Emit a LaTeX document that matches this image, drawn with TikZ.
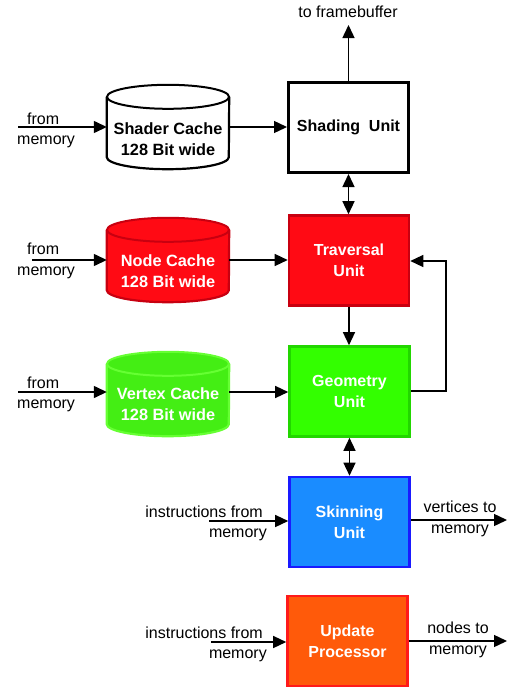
\documentclass[tikz,border=0pt]{standalone}
\usepackage{fontspec}
\setmainfont{Liberation Sans}
\usetikzlibrary{arrows.meta}

\definecolor{travfill}{HTML}{FF0A14}
\definecolor{travline}{HTML}{C80010}
\definecolor{geofill}{HTML}{33FF00}
\definecolor{geoline}{HTML}{22D600}
\definecolor{vcfill}{HTML}{44EE14}
\definecolor{vcline}{HTML}{66FF33}
\definecolor{skinfill}{HTML}{1A8CFF}
\definecolor{skinline}{HTML}{1A1AFF}
\definecolor{updfill}{HTML}{FF5A0A}
\definecolor{updline}{HTML}{FF1A1A}

\tikzset{
  unit/.style={minimum width=120pt, minimum height=90pt, line width=2.6pt,
    font=\fontsize{16}{21}\selectfont\bfseries, align=center, inner sep=0pt},
  cachebox/.style={minimum width=122pt, minimum height=84pt, inner sep=0pt,
    font=\fontsize{16.3}{21}\selectfont\bfseries, align=center},
  lbl/.style={font=\fontsize{16}{20}\selectfont, inner sep=0pt},
  tip/.style={Triangle[length=13pt,width=12pt]},
  conn/.style={line width=1.4pt, -{Triangle[length=13pt,width=12pt]}},
  biconn/.style={line width=1.4pt, {Triangle[length=13pt,width=12pt]}-{Triangle[length=13pt,width=12pt]}},
}

% cylinder drawn round a named rectangle node: #1 node, #2 fill, #3 line
\newcommand{\cachedrum}[3]{%
  \fill[#2] ([yshift=-12pt]#1.north west) -- ([yshift=12pt]#1.south west)
     arc (180:360:61pt and 12pt) -- ([yshift=-12pt]#1.north east)
     arc (0:180:61pt and 12pt) -- cycle;
  \draw[#3, line width=2.2pt] ([yshift=-12pt]#1.north west) -- ([yshift=12pt]#1.south west)
     arc (180:360:61pt and 12pt) -- ([yshift=-12pt]#1.north east);
  \draw[#3, line width=2pt] ([yshift=-12pt]#1.north) ellipse (61pt and 12pt);
}

\begin{document}
\begin{tikzpicture}[x=1pt, y=-1pt]
\useasboundingbox (0,0) rectangle (507,688);

% processing units
\node[unit, draw=black, fill=white, line width=3pt] (shade) at (348.5,127.5) {Shading\ \ Unit};
\node[unit, draw=travline, fill=travfill, text=white] (trav) at (349,260.5) {Traversal\\Unit};
\node[unit, draw=geoline, fill=geofill, text=white] (geo) at (349.5,391.5) {Geometry\\Unit};
\node[unit, draw=skinline, fill=skinfill, text=white] (skin) at (349.5,522) {Skinning\\Unit};
\node[unit, draw=updline, fill=updfill, text=white] (upd) at (347.5,641) {Update\\Processor};

% caches
\node[cachebox] (sc) at (168,127) {};
\cachedrum{sc}{white}{black}
\node[cachebox, text=black] at (168,139) {Shader Cache\\128 Bit wide};

\node[cachebox] (nc) at (168,260) {};
\cachedrum{nc}{travfill}{travline}
\node[cachebox, text=white] at (168,271) {Node Cache\\128 Bit wide};

\node[cachebox] (vc) at (168,394) {};
\cachedrum{vc}{vcfill}{vcline}
\node[cachebox, text=white] at (168,404) {Vertex Cache\\128 Bit wide};

% free ends
\coordinate (fb) at (348.5,25);
\coordinate (scin) at (18,127);
\coordinate (ncin) at (32,260);
\coordinate (vcin) at (18,392);
\coordinate (skin-in) at (209,521);
\coordinate (skin-out) at (507,520);
\coordinate (upd-in) at (211,642);
\coordinate (upd-out) at (507,641);
\coordinate (loopA) at (446,391);
\coordinate (loopB) at (446,261);

% connectors
\draw[conn] (shade.north) -- (fb);
\draw[conn] (scin) -- (sc.west);
\draw[conn] (sc.east) -- (shade.west |- sc.east);
\draw[conn] (ncin) -- (nc.west);
\draw[conn] (nc.east) -- (trav.west |- nc.east);
\draw[conn] (vcin) -- (vc.west |- vcin);
\draw[conn] (vc.east |- vcin) -- (geo.west |- vcin);
\draw[biconn] (shade.south) -- (trav.north -| shade.south);
\draw[conn] (trav.south) -- (geo.north -| trav.south);
\draw[biconn] (geo.south) -- (skin.north -| geo.south);
\draw[conn] (geo.east |- loopA) -- (loopA) -- (loopB) -- (trav.east |- loopB);
\draw[conn] (skin-in) -- (skin.west |- skin-in);
\draw[conn] (skin.east |- skin-out) -- (skin-out);
\draw[conn] (upd-in) -- (upd.west |- upd-in);
\draw[conn] (upd.east |- upd-out) -- (upd-out);

% labels
\node[lbl] (t-fb) at (348,12) {to framebuffer};
\node[lbl, anchor=base west] (l-sc1) at (27,124) {from};
\node[lbl, anchor=base west] (l-sc2) at (17,144) {memory};
\node[lbl, anchor=base west] (l-nc1) at (27,254) {from};
\node[lbl, anchor=base west] (l-nc2) at (17,275) {memory};
\node[lbl, anchor=base west] (l-vc1) at (27,388) {from};
\node[lbl, anchor=base west] (l-vc2) at (17,408) {memory};
\node[lbl, anchor=base east] (l-sk1) at (263,517) {instructions from};
\node[lbl, anchor=base east] (l-sk2) at (267,537) {memory};
\node[lbl, anchor=base] (l-sk3) at (460,512) {vertices to};
\node[lbl, anchor=base] (l-sk4) at (460,533) {memory};
\node[lbl, anchor=base east] (l-up1) at (263,638) {instructions from};
\node[lbl, anchor=base east] (l-up2) at (267,658) {memory};
\node[lbl, anchor=base] (l-up3) at (458,633) {nodes to};
\node[lbl, anchor=base] (l-up4) at (458,654) {memory};
\end{tikzpicture}
\end{document}
